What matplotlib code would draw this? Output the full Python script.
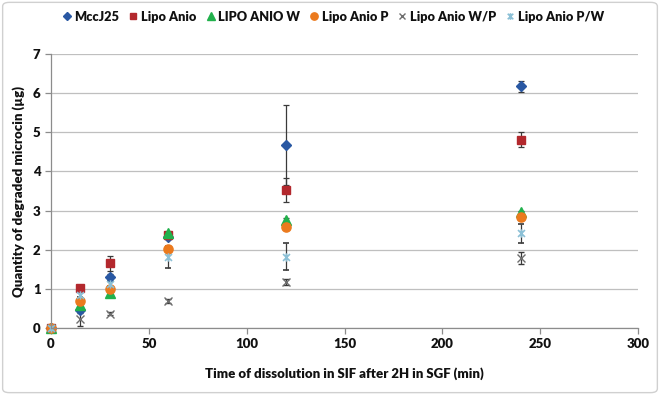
import matplotlib
matplotlib.use("Agg")
import matplotlib.pyplot as plt
from matplotlib.path import Path
from matplotlib.patches import FancyBboxPatch

plt.rcParams['font.family'] = ['Lato', 'DejaVu Sans']

time_min = [0, 15, 30, 60, 120, 240]
series_names = ["MccJ25", "Lipo Anio", "LIPO ANIO W", "Lipo Anio P", "Lipo Anio W/P", "Lipo Anio P/W"]

mccj25 = [0.0, 0.47, 1.31, 2.33, 4.67, 6.18]
mccj25_err = [0.02, 0.06, 0.08, 0.05, 1.02, 0.14]
lipo_anio = [0.0, 1.03, 1.65, 2.37, 3.52, 4.81]
lipo_anio_err = [0.02, 0.05, 0.19, 0.05, 0.30, 0.19]
lipo_anio_w = [0.0, 0.58, 0.90, 2.42, 2.76, 2.96]
lipo_anio_w_err = [0.02, 0.04, 0.04, 0.04, 0.04, 0.04]
lipo_anio_p = [0.0, 0.68, 0.99, 2.02, 2.57, 2.84]
lipo_anio_p_err = [0.02, 0.05, 0.05, 0.08, 0.05, 0.05]
lipo_anio_wp = [0.0, 0.22, 0.36, 0.70, 1.17, 1.78]
lipo_anio_wp_err = [0.02, 0.16, 0.04, 0.05, 0.07, 0.15]
lipo_anio_pw = [0.0, 0.85, 1.13, 1.82, 1.82, 2.42]
lipo_anio_pw_err = [0.02, 0.06, 0.06, 0.28, 0.34, 0.24]

values = [mccj25, lipo_anio, lipo_anio_w, lipo_anio_p, lipo_anio_wp, lipo_anio_pw]
errors = [mccj25_err, lipo_anio_err, lipo_anio_w_err, lipo_anio_p_err, lipo_anio_wp_err, lipo_anio_pw_err]

star = Path([(-1, -1), (1, 1), (-1, 1), (1, -1), (0, -1.2), (0, 1.2)],
            [Path.MOVETO, Path.LINETO, Path.MOVETO, Path.LINETO, Path.MOVETO, Path.LINETO])

styles = [
    dict(marker='D', ms=4.6, color='#2958A3', mec='#2958A3'),
    dict(marker='s', ms=6.0, color='#B3282D', mec='#B3282D'),
    dict(marker='^', ms=7.0, color='#22B14C', mec='#22B14C'),
    dict(marker='o', ms=6.6, color='#EB7A1E', mec='#EB7A1E'),
    dict(marker='x', ms=5.5, color='#6E6E6E', mec='#6E6E6E', mew=1.0),
    dict(marker=star, ms=6.0, color='#8CC0D6', mec='#8CC0D6', mew=1.2),
]

fig = plt.figure(figsize=(6.6, 3.95), dpi=100)
ax = fig.add_axes([0.0773, 0.1696, 0.8894, 0.6937])

for name, v, e, st in zip(series_names, values, errors, styles):
    eb = ax.errorbar(time_min, v, yerr=e, linestyle='none', ecolor='#3A3A3A',
                     elinewidth=0.9, capsize=2.5, capthick=0.9, label=name, **st)
    for artist in eb.lines[0:1]:
        artist.set_clip_on(False)

ax.set_xlim(0, 300)
ax.set_ylim(0, 7)
ax.set_xticks([0, 50, 100, 150, 200, 250, 300])
ax.set_yticks(range(0, 8))
ax.yaxis.grid(True, color='#BFBFBF', linewidth=0.9)
ax.set_axisbelow(True)
for s in ['top', 'right']:
    ax.spines[s].set_visible(False)
for s in ['left', 'bottom']:
    ax.spines[s].set_color('#8C8C8C')
    ax.spines[s].set_linewidth(0.9)
ax.tick_params(axis='both', colors='#8C8C8C', length=4, width=0.9, labelsize=9.5,
               labelcolor='#111111')
for lbl in ax.get_xticklabels() + ax.get_yticklabels():
    lbl.set_fontweight('heavy')

ax.set_xlabel("Time of dissolution in SIF after 2H in SGF (min)", fontsize=9.5,
              fontweight='heavy', color='#111111', labelpad=12)
ax.set_ylabel("Quantity of degraded microcin (µg)", fontsize=9.5,
              fontweight='heavy', color='#111111', labelpad=6)

handles, labels = ax.get_legend_handles_labels()
handles = [h[0] for h in handles]
leg = fig.legend(handles, labels, loc='center', bbox_to_anchor=(0.505, 0.958), ncol=6,
                 frameon=False, fontsize=9.2, handlelength=0.7, handletextpad=0.25,
                 columnspacing=0.75, markerscale=0.8)
for t in leg.get_texts():
    t.set_fontweight('heavy')
    t.set_color('#111111')

border = FancyBboxPatch((0.004, 0.006), 0.992, 0.988, boxstyle="round,pad=0,rounding_size=0.01",
                        transform=fig.transFigure, facecolor='none', edgecolor='#D0D0D0',
                        linewidth=1.0)
fig.patches.append(border)

fig.savefig("out.png", dpi=100)
